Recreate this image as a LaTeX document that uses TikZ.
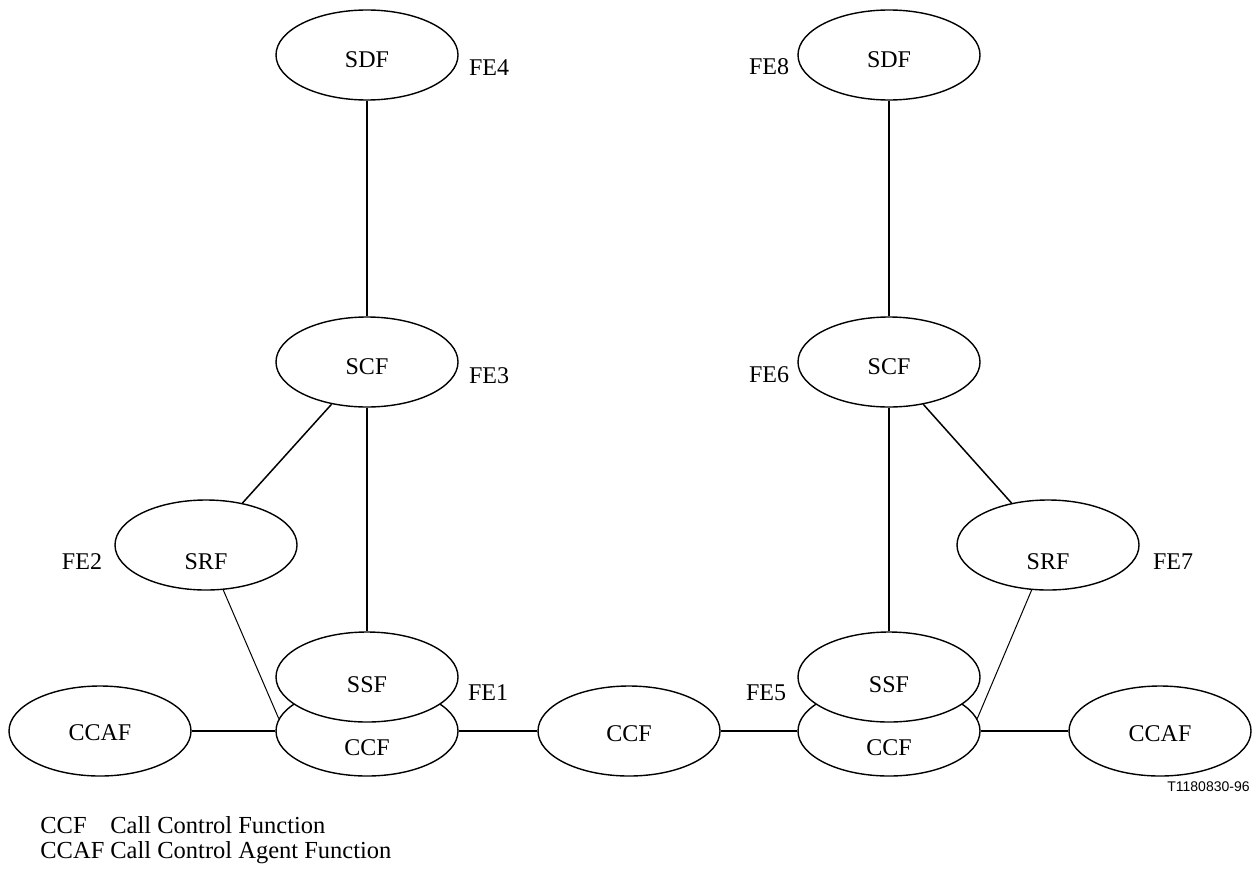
\documentclass[tikz,border=0pt]{standalone}
\usepackage{fontspec}
\setmainfont{Liberation Serif}
\setsansfont{Liberation Sans}
\usetikzlibrary{shapes.geometric}

\begin{document}
\begin{tikzpicture}[x=0.5pt,y=-0.5pt,
   fe/.style={ellipse,draw=black,line width=0.7pt,fill=white,minimum width=91pt,
     minimum height=45pt,inner sep=0pt,font=\fontsize{12}{14}\selectfont},
   felabel/.style={inner sep=0pt,font=\fontsize{12}{14}\selectfont},
   legend/.style={anchor=base west,inner sep=0pt,font=\fontsize{12.25}{15}\selectfont}]
   \useasboundingbox (0,0) rectangle (1256,872);
   \begin{scope}[every node/.style={fe}]
    \node[text height=13pt] (sdfL) at (367,55) {SDF};
    \node[text height=13pt] (scfL) at (367,362) {SCF};
    \node[text height=25pt] (srfL) at (206,545) {SRF};
    \node[text height=10pt] (ccafL) at (100,731) {CCAF};
    \node[text height=25pt] (ccfL) at (367,731) {CCF};
    \node[text height=16pt] (ssfL) at (367,677) {SSF};
    \node[text height=11pt] (ccfM) at (629,731) {CCF};
    \node[text height=13pt] (sdfR) at (889,55) {SDF};
    \node[text height=13pt] (scfR) at (889,362) {SCF};
    \node[text height=25pt] (srfR) at (1048,545) {SRF};
    \node[text height=25pt] (ccfR) at (889,731) {CCF};
    \node[text height=16pt] (ssfR) at (889,677) {SSF};
    \node[text height=11pt] (ccafR) at (1160,731) {CCAF};
   \end{scope}
   \begin{scope}[every node/.style={felabel}]
    \node (fe1) at (488,693) {FE1};
    \node (fe2) at (82,562) {FE2};
    \node (fe3) at (489,376) {FE3};
    \node (fe4) at (489,68) {FE4};
    \node (fe5) at (766,693) {FE5};
    \node (fe6) at (769,375) {FE6};
    \node (fe7) at (1173,562) {FE7};
    \node (fe8) at (769,67) {FE8};
   \end{scope}
   \begin{scope}[every edge/.style={draw=black,line width=1pt}]
    \draw (sdfL.south) edge (scfL.north);
    \draw (scfL.south) edge (ssfL.north);
    \draw (ccafL.east) edge (ccfL.west);
    \draw (ccfL.east) edge (ccfM.west);
    \draw (ccfM.east) edge (ccfR.west);
    \draw (ccfR.east) edge (ccafR.west);
    \draw (sdfR.south) edge (scfR.north);
    \draw (scfR.south) edge (ssfR.north);
    \draw (scfL.230) edge[line width=0.75pt] (srfL.49);
    \draw (scfR.309) edge[line width=0.75pt] (srfR.131);
    \draw (srfL.291) edge[line width=0.5pt] (ccfL.172);
    \draw (srfR.250) edge[line width=0.5pt] (ccfR.8);
   \end{scope}
   \node[legend] (kccf) at (40,833) {CCF};
   \node[legend] (tccf) at (110,833) {Call Control Function};
   \node[legend] (kccaf) at (40,858) {CCAF};
   \node[legend] (tccaf) at (110,858) {Call Control Agent Function};
   \node[anchor=east,inner sep=0pt,font=\sffamily\fontsize{7}{8}\selectfont] (ref) at (1250,787) {T1180830-96};
\end{tikzpicture}
\end{document}
